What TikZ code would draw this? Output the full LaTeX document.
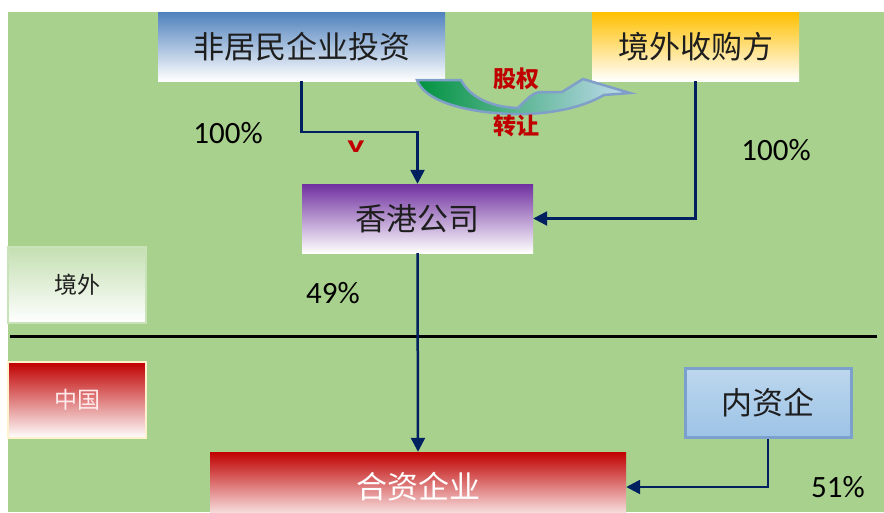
\documentclass[tikz,border=0pt]{standalone}
\usepackage{fontspec}
\setmainfont{Carlito}
\newfontfamily\cjk{Noto Sans CJK SC}
\usetikzlibrary{arrows.meta}
\definecolor{bg}{HTML}{A9D18E}
\definecolor{navy}{HTML}{002060}
\definecolor{txt}{HTML}{1E1E1E}
\definecolor{blueTop}{HTML}{4F81BD}
\definecolor{orangeTop}{HTML}{FFC000}
\definecolor{purpleTop}{HTML}{7030A0}
\definecolor{redTop}{HTML}{C00000}
\definecolor{lgTop}{HTML}{C4DFB2}
\definecolor{lgEdge}{HTML}{C9E3B9}
\definecolor{ylEdge}{HTML}{FFF2CC}
\definecolor{domTop}{HTML}{BDD7EE}
\definecolor{domBot}{HTML}{9DC3E6}
\definecolor{domEdge}{HTML}{7BA0CD}
\definecolor{eqGreen}{HTML}{00923F}
\definecolor{eqLight}{HTML}{C2DCF0}
\definecolor{eqEdge}{HTML}{7F9FC9}
\definecolor{eqRed}{HTML}{C00000}
\begin{document}
\begin{tikzpicture}[x=1pt,y=-1pt,
  box/.style={inner sep=0pt, font=\cjk\fontsize{31}{36}\selectfont, text=txt, bottom color=white},
  smallbox/.style={inner sep=0pt, font=\cjk\fontsize{23}{28}\selectfont, bottom color=white, line width=2pt, minimum width=138pt, minimum height=76pt},
  arr/.style={draw=navy, line width=2.5pt, -{Triangle[width=14pt,length=14pt]}},
  pct/.style={font=\fontsize{31}{36}\selectfont, text=black},
  eqlab/.style={font=\cjk\bfseries\fontsize{23}{27}\selectfont, text=eqRed}]
\useasboundingbox (0,0) rectangle (884,512);
\fill[white] (0,0) rectangle (884,512);
\fill[bg] (8,12) rectangle (884,512);
\draw[black, line width=3pt] (10,336) -- (877,336);

\node[box, top color=blueTop, minimum width=287pt, minimum height=69pt] (inv) at (301.5,46.5) {非居民企业投资};
\node[box, top color=orangeTop, minimum width=207pt, minimum height=69pt] (acq) at (695.5,46.5) {境外收购方};
\node[box, top color=purpleTop, minimum width=231pt, minimum height=69pt] (hk) at (417.5,218.5) {香港公司};
\node[box, top color=redTop, text=white, minimum width=416pt, minimum height=70pt] (jv) at (418,487) {合资企业};
\node[box, top color=domTop, bottom color=domBot, draw=domEdge, line width=3pt, minimum width=166pt, minimum height=69pt] (dom) at (768,402.5) {内资企};
\node[smallbox, top color=lgTop, draw=lgEdge, text=txt] (jw) at (77,285) {境外};
\node[smallbox, top color=redTop, draw=ylEdge, text=white!92!red] (cn) at (77,400) {中国};

\draw[arr] (inv.south) -- ++(0,51) -| (hk.north);
\draw[arr] (acq.south) |- (hk.east);
\draw[arr] (hk.south) -- (jv.north);
\draw[arr] (dom.south) |- (jv.east);

\filldraw[draw=eqEdge, line width=2.5pt, left color=eqGreen, middle color=eqGreen!80!eqLight, right color=eqLight]
  (417,80) -- (461,80) .. controls (470,97) and (490,107) .. (518,108)
  .. controls (526,100) and (532,93) .. (540,92) -- (562,92) -- (583,79) -- (630,93) -- (604,95)
  .. controls (580,109) and (545,115) .. (510,114)
  .. controls (462,112) and (424,100) .. (417,80) -- cycle;
\node[eqlab] (eq1) at (516,79) {股权};
\node[eqlab] (eq2) at (516,126) {转让};
\node[font=\bfseries\fontsize{24}{28}\selectfont, text=eqRed] (vmark) at (356,147) {\scalebox{1.5}[1]{v}};

\node[pct] (p1) at (228,133) {100\%};
\node[pct] (p2) at (776,150) {100\%};
\node[pct] (p3) at (333,293) {49\%};
\node[pct] (p4) at (838,487) {51\%};
\end{tikzpicture}
\end{document}
